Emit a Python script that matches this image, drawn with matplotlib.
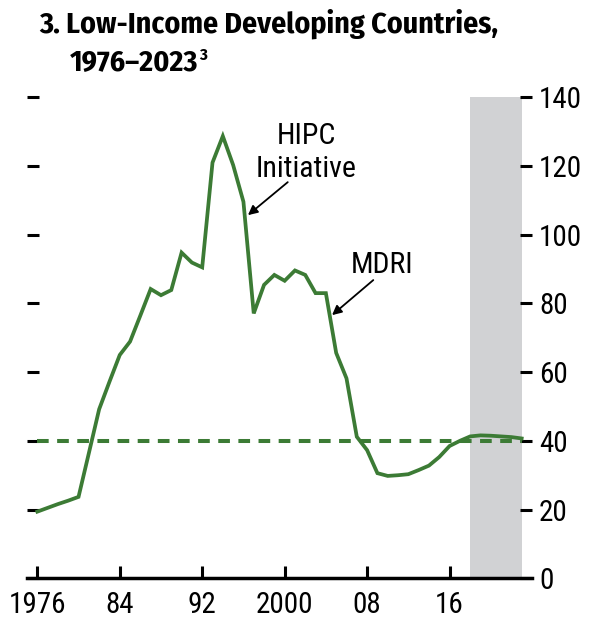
import numpy as np
import matplotlib
matplotlib.use("Agg")
import matplotlib.pyplot as plt

plt.rcParams['font.family'] = ['Roboto Condensed', 'DejaVu Sans']

# debt-to-GDP for low-income developing countries
years = np.arange(1976, 2024)
debt = [19.4, 20.5, 21.6, 22.6, 23.7, 36.4, 49.2, 57.2, 65.0, 68.9,
        76.5, 84.2, 82.4, 83.9, 94.8, 91.9, 90.5, 121.0, 128.7, 120.3,
        109.6, 77.1, 85.4, 88.3, 86.6, 89.6, 88.3, 83.0, 83.0, 65.6,
        58.2, 41.2, 37.3, 30.6, 29.8, 30.0, 30.3, 31.5, 32.8, 35.3,
        38.5, 40.0, 41.3, 41.6, 41.5, 41.3, 41.1, 40.7]
avg_level = 40
proj_start, proj_end = 2018, 2023

xticks = [1976, 1984, 1992, 2000, 2008, 2016]
xticklabels = ['1976', '84', '92', '2000', '08', '16']
yticks = np.arange(0, 141, 20)

green = '#3c7b35'
title_font = ['Fira Sans Condensed', 'Roboto Condensed', 'DejaVu Sans']

fig = plt.figure(figsize=(5.99, 6.31), dpi=100)
ax = fig.add_axes([27/599, 1-578.3/631, (532-27)/599, (578.3-97.3)/631])

ax.axvspan(proj_start, proj_end, color='#d1d2d4', lw=0, zorder=0)
ax.plot(years, debt, color=green, lw=2.7, zorder=3, solid_joinstyle='miter')
ax.plot([years[0], years[-1]], [avg_level, avg_level], color=green, lw=2.9,
        dashes=(2.9, 2.1), zorder=4)

ax.set_xlim(1975, 2024)
ax.set_ylim(0, 140)
ax.set_xticks(xticks)
ax.set_xticklabels(xticklabels)
ax.set_yticks(yticks)

for s in ['top', 'left', 'right']:
    ax.spines[s].set_visible(False)
ax.spines['bottom'].set_linewidth(2.5)

ax.tick_params(axis='x', direction='in', length=9, width=2.2, pad=9, labelsize=21)
ax.tick_params(axis='y', direction='in', length=8.5, width=2.2, pad=5, labelsize=21,
               left=True, right=True, labelleft=False, labelright=True)

arrow = dict(arrowstyle='-|>', color='black', lw=1.3, mutation_scale=14,
             shrinkA=0, shrinkB=0)
ax.annotate('', xy=(1996.44, 105.7), xytext=(2000.3, 115.3), arrowprops=arrow)
ax.text(2002.1, 116.8, 'HIPC\nInitiative', ha='center', va='baseline',
        fontsize=21.5, linespacing=1.25)
ax.annotate('', xy=(2004.6, 76.6), xytext=(2008.6, 86.8), arrowprops=arrow)
ax.text(2009.5, 88.9, 'MDRI', ha='center', va='baseline', fontsize=21.5)

fig.text(39/599, 1-33/631, '3. Low-Income Developing Countries,',
         fontsize=21.5, fontweight='bold', va='baseline', family=title_font)
t2 = fig.text(70/599, 1-70/631, '1976\u20132023', fontsize=21.5,
              fontweight='bold', va='baseline', family=title_font)
fig.canvas.draw()
bb = t2.get_window_extent()
fig.text((bb.x1 + 0.5)/599, 1-60/631, '3', fontsize=12, fontweight='bold',
         va='baseline', family=title_font)

fig.savefig('out.png', dpi=100)
